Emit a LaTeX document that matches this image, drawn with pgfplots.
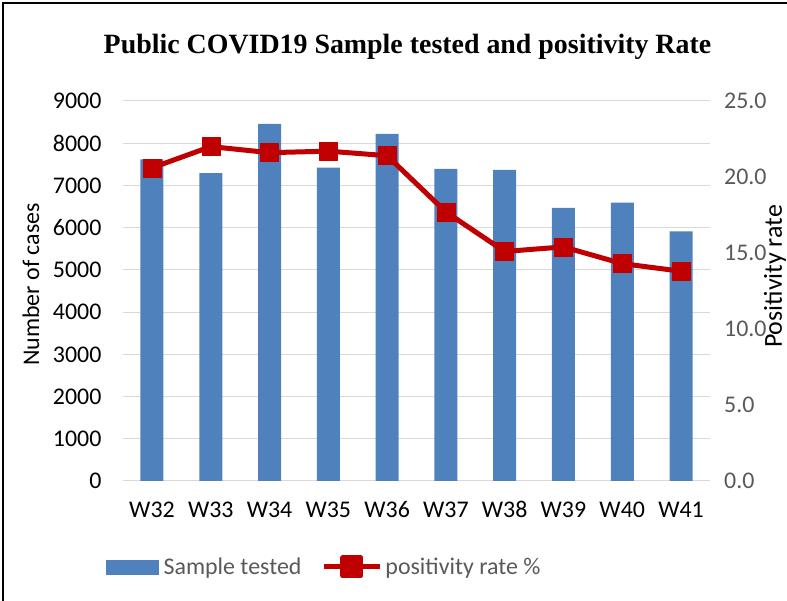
\documentclass[border=0pt]{standalone}
\usepackage{fontspec}
\setmainfont{Liberation Serif}
\newfontfamily\carlito{Carlito}
\usepackage{pgfplots}
\pgfplotsset{compat=1.18}
\definecolor{barblue}{HTML}{4F81BD}
\definecolor{linered}{HTML}{C00000}
\definecolor{txtgray}{HTML}{595959}
\definecolor{gridgray}{HTML}{D9D9D9}
\begin{document}
\begin{tikzpicture}[x=1bp,y=1bp]
\path[use as bounding box] (0,0) rectangle (787,601);
\draw[black, line width=2bp] (3,0) -- (3,598) -- (787,598);
\node[font=\bfseries\fontsize{28}{30}\selectfont, anchor=center] at (407.5,554) {Public COVID19 Sample tested and positivity Rate};
\node[rotate=90, font=\carlito\fontsize{24}{28}\selectfont] at (31,316.5) {Number of cases};
\node[rotate=90, font=\carlito\fontsize{26}{28}\selectfont] at (775,324.5) {Positivity rate};
\begin{axis}[
  at={(122.6bp,120bp)}, anchor=south west, scale only axis,
  width=587.8bp, height=380bp,
  xmin=-0.5, xmax=9.5, ymin=0, ymax=9000,
  xtick={0,...,9}, xticklabels={W32,W33,W34,W35,W36,W37,W38,W39,W40,W41},
  ytick={0,1000,...,9000},
  ymajorgrids, grid style={gridgray, line width=1bp},
  axis line style={draw=none},
  major tick length=0pt,
  tick label style={font=\carlito\fontsize{24}{28}\selectfont},
  yticklabel style={anchor=east, inner sep=0pt, xshift=-21bp},
  xticklabel style={anchor=base, inner sep=0pt, yshift=-37bp},
  /pgf/number format/1000 sep={}, /pgf/number format/assume math mode=true,
  ybar, bar width=23bp,
]
\addplot[fill=barblue, draw=none] coordinates {
(0,7620) (1,7290) (2,8460) (3,7420) (4,8220) (5,7390) (6,7370) (7,6470) (8,6590) (9,5910)};
\end{axis}
\begin{axis}[
  at={(122.6bp,120bp)}, anchor=south west, scale only axis,
  width=587.8bp, height=380bp,
  xmin=-0.5, xmax=9.5, ymin=0, ymax=25,
  axis x line=none, axis y line*=right,
  y axis line style={draw=none},
  ytick={0,5,...,25},
  major tick length=0pt,
  tick label style={font=\carlito\fontsize{24}{28}\selectfont},
  yticklabel style={anchor=west, inner sep=0pt, xshift=13.6bp, text=txtgray,
    /pgf/number format/.cd, fixed, fixed zerofill, precision=1, assume math mode=true},
  legend style={at={(-0.0282,-0.2263)}, anchor=west, draw=none, fill=none,
    inner sep=0pt, column sep=0pt, font=\carlito\fontsize{24}{28}\selectfont,
    text=txtgray, nodes={inner sep=0pt}},
  legend columns=2, legend cell align=left,
]
\addlegendimage{barblue, legend image code/.code={\fill[barblue] (0bp,-7bp) rectangle (52bp,7bp); \path (57bp,0bp);}}
\addlegendentry{Sample tested}
\addplot[linered, line width=5bp, line join=round, mark=square*, mark size=9bp,
  mark options={line width=0.5bp},
  legend image code/.code={\draw[linered, line width=5bp] (0bp,0bp) -- (56bp,0bp); \fill[linered] (19bp,-9bp) rectangle (37bp,9bp); \path (-20bp,0bp) (59bp,0bp);}]
coordinates {(0,20.6) (1,22.0) (2,21.6) (3,21.7) (4,21.4) (5,17.7) (6,15.1) (7,15.4) (8,14.3) (9,13.8)};
\addlegendentry{positivity rate \%}
\end{axis}
\end{tikzpicture}
\end{document}
